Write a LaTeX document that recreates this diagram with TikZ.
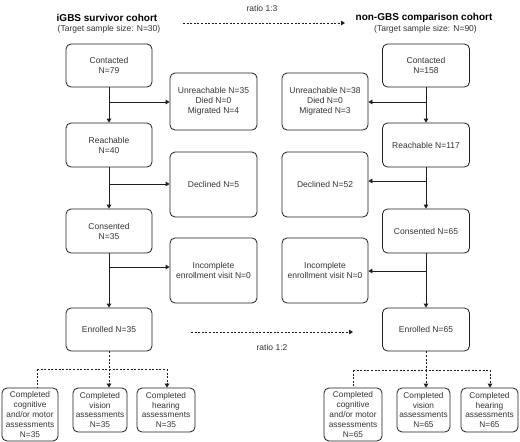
\documentclass[tikz,border=0pt]{standalone}
\usepackage{fontspec}
\setmainfont{Liberation Sans}
\usetikzlibrary{arrows.meta}
\definecolor{ln}{HTML}{1E1E1E}
\definecolor{tx}{HTML}{333333}
\begin{document}
\begin{tikzpicture}[x=1pt,y=-1pt,
  bx/.style={draw=ln, rounded corners=5pt, line width=0.8pt, text=tx,
    font=\fontsize{8.5}{10}\selectfont, align=center, inner sep=0pt},
  sbx/.style={bx, font=\fontsize{8.3}{9.8}\selectfont},
  lbl/.style={text=tx, font=\fontsize{8.5}{10}\selectfont, inner sep=0pt},
  ttl/.style={text=black, font=\fontsize{10}{12}\selectfont\bfseries, inner sep=0pt},
  ar/.style={-{Triangle[length=4pt,width=4.5pt]}},
  cn/.style={draw=ln, line width=0.8pt},
  dsh/.style={draw=ln, line width=0.8pt, dash pattern=on 2pt off 1.6pt}]
\useasboundingbox (0,0) rectangle (520,442);
\fill[white] (0,0) rectangle (520,442);
% headers
\node[ttl] (t1) at (107,18) {iGBS survivor cohort};
\node[lbl] (t1s) at (109,29) {(Target sample size: N=30)};
\node[ttl] (t2) at (424,18) {non-GBS comparison cohort};
\node[lbl] (t2s) at (425.5,29) {(Target sample size: N=90)};
\node[lbl] (r13) at (262,8) {ratio 1:3};
\node[lbl] (r12) at (272,347) {ratio 1:2};
\coordinate (ta) at (183,23);
\coordinate (tb) at (345,23);
\coordinate (qa) at (191,332);
\coordinate (qb) at (353,332);
\draw[dsh,ar] (ta) -- (tb);
\draw[dsh,ar] (qa) -- (qb);
% left column
\node[bx, minimum width=86, minimum height=43] (c1) at (109,65.5) {Contacted\\N=79};
\node[bx, minimum width=86, minimum height=44] (r1) at (109,145) {Reachable\\N=40};
\node[bx, minimum width=86, minimum height=44] (s1) at (109,231) {Consented\\N=35};
\node[bx, minimum width=86, minimum height=43] (e1) at (109,329.5) {Enrolled N=35};
\node[bx, minimum width=87, minimum height=57] (u1) at (213.5,101.5) {Unreachable N=35\\Died N=0\\Migrated N=4};
\node[bx, minimum width=87, minimum height=65] (d1) at (213.5,184.5) {Declined N=5};
\node[bx, minimum width=87, minimum height=65] (i1) at (213.5,270.5) {Incomplete\\enrollment visit N=0};
% right column
\node[bx, minimum width=87, minimum height=43] (c2) at (426,65.5) {Contacted\\ N=158};
\node[bx, minimum width=87, minimum height=44] (r2) at (426,145) {Reachable N=117};
\node[bx, minimum width=87, minimum height=44] (s2) at (426,231) {Consented N=65};
\node[bx, minimum width=87, minimum height=43] (e2) at (426,329.5) {Enrolled N=65};
\node[bx, minimum width=86, minimum height=57] (u2) at (325,101.5) {Unreachable N=38\\Died N=0\\Migrated N=3};
\node[bx, minimum width=86, minimum height=65] (d2) at (325,184.5) {Declined N=52};
\node[bx, minimum width=86, minimum height=65] (i2) at (325,270.5) {Incomplete\\enrollment visit N=0};
% bottom boxes
\node[sbx, minimum width=56, minimum height=53] (g1) at (30,414.5) {Completed\\cognitive\\and/or motor\\assessments\\N=35};
\node[sbx, minimum width=54, minimum height=44] (v1) at (100,410) {Completed\\vision\\assessments\\N=35};
\node[sbx, minimum width=58, minimum height=44] (h1) at (166,410) {Completed\\hearing\\assessments\\N=35};
\node[sbx, minimum width=58, minimum height=53] (g2) at (353,414.5) {Completed\\cognitive\\and/or motor\\assessments\\N=65};
\node[sbx, minimum width=53, minimum height=44] (v2) at (423.5,410) {Completed\\vision\\assessments\\N=65};
\node[sbx, minimum width=57, minimum height=44] (h2) at (489.5,410) {Completed\\hearing\\assessments\\N=65};
% left connectors
\draw[cn,ar] (c1) -- (r1);
\draw[cn,ar] (r1) -- (s1);
\draw[cn,ar] (s1) -- (e1);
\coordinate (b1) at (109,102);
\coordinate (b2) at (109,184);
\coordinate (b3) at (109,267);
\draw[cn,ar] (b1) -- (b1 -| u1.west);
\draw[cn,ar] (b2) -- (b2 -| d1.west);
\draw[cn,ar] (b3) -- (b3 -| i1.west);
% right connectors
\draw[cn,ar] (c2) -- (r2);
\draw[cn,ar] (r2) -- (s2);
\draw[cn,ar] (s2) -- (e2);
\coordinate (p1) at (426,102);
\coordinate (p2) at (426,181);
\coordinate (p3) at (426,271);
\draw[cn,ar] (p1) -- (p1 -| u2.east);
\draw[cn,ar] (p2) -- (p2 -| d2.east);
\draw[cn,ar] (p3) -- (p3 -| i2.east);
% bottom left dashed
\coordinate (k1) at (109,369);
\coordinate (kL) at (37,369);
\coordinate (kR) at (167,369);
\draw[dsh] (e1.south) -- (k1);
\draw[dsh] (kL) -- (kR);
\draw[dsh,ar] (k1) -- (k1 |- v1.north);
\draw[dsh,ar] (kR) -- (kR |- h1.north);
\draw[dsh] (kL) -- (kL |- g1.north);
% bottom right dashed
\coordinate (m1) at (426,370);
\coordinate (mL) at (353,370);
\coordinate (mR) at (490,370);
\draw[dsh] (e2.south) -- (m1);
\draw[dsh] (mL) -- (mR);
\draw[dsh,ar] (m1) -- (m1 |- v2.north);
\draw[dsh,ar] (mR) -- (mR |- h2.north);
\draw[dsh] (mL) -- (mL |- g2.north);
\end{tikzpicture}
\end{document}
